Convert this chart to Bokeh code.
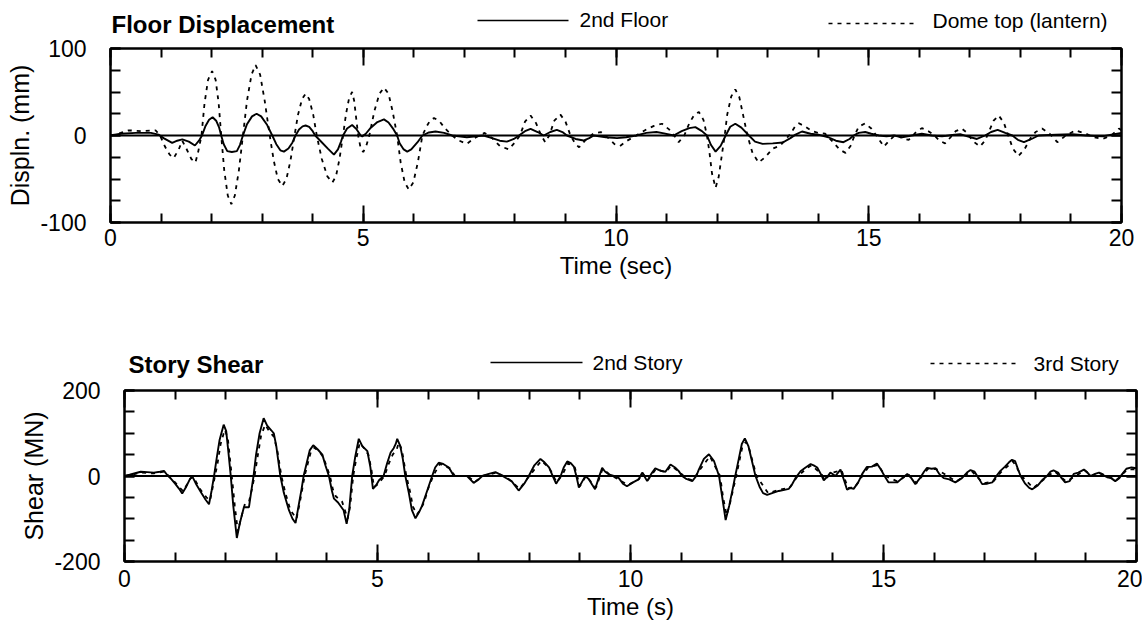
from bokeh.plotting import figure
from bokeh.models import (Range1d, SingleIntervalTicker, LinearAxis, Span, CustomJSTickFormatter)
from bokeh.core.properties import value
from bokeh.embed import file_html
from bokeh.resources import INLINE

# ---------------- data ----------------
floor2_pts = [(0,0),(0.2,2),(0.5,3),(0.8,3),(0.95,1),(1.05,-3),(1.22,-8.5),(1.32,-6),(1.42,-4.5),(1.55,-7),(1.67,-11.5),(1.75,-6),(1.81,0),(1.88,11),(1.95,18),(2.02,21),(2.09,17),(2.15,9),(2.19,0),(2.24,-10),(2.31,-18),(2.4,-19),(2.5,-18),(2.56,-11),(2.62,0),(2.7,13),(2.8,22),(2.89,25),(2.98,22),(3.1,12),(3.2,0),(3.28,-10),(3.36,-17),(3.43,-18.5),(3.52,-15),(3.6,-8),(3.66,0),(3.73,7),(3.8,10.5),(3.86,11.5),(3.93,10),(4.0,5),(4.05,0),(4.15,-6),(4.3,-15),(4.42,-22),(4.5,-16),(4.56,-7),(4.6,0),(4.68,8),(4.78,12),(4.87,7),(4.95,0),(4.98,-1),(5.05,2),(5.15,9),(5.28,15.5),(5.41,18.5),(5.5,15),(5.6,7),(5.67,0),(5.72,-9),(5.8,-16),(5.87,-18.5),(5.95,-16),(6.07,-8),(6.17,0),(6.3,3.5),(6.43,4.6),(6.6,3),(6.76,0),(7.05,-2),(7.38,0),(7.55,-3),(7.7,-6),(7.84,-7),(7.98,-4),(8.08,0),(8.2,5),(8.31,7.7),(8.45,4),(8.57,0),(8.7,4),(8.83,6.5),(8.94,4),(9.03,0),(9.2,-4),(9.36,-5.8),(9.47,-3),(9.56,0),(9.8,-2),(10.02,-3),(10.2,-2),(10.4,0),(10.6,3),(10.8,4),(10.95,2.5),(11.14,0),(11.3,5),(11.45,8.5),(11.57,9.6),(11.7,5),(11.8,0),(11.88,-11),(11.97,-18.5),(12.07,-12),(12.17,0),(12.26,10),(12.36,13.5),(12.48,9),(12.63,0),(12.75,-7),(12.9,-9.6),(13.1,-9),(13.3,-8),(13.45,-3),(13.55,1),(13.68,4.6),(13.85,2),(14.0,1),(14.2,-2),(14.35,-6),(14.5,-7.7),(14.62,-4),(14.7,0),(14.8,3),(14.93,4),(15.05,2),(15.2,0),(15.35,-1),(15.5,0),(15.66,-2),(15.85,0),(16.05,2),(16.25,0),(16.45,-1),(16.65,0.5),(16.81,1.5),(16.95,-1),(17.14,-4),(17.3,0),(17.42,4),(17.55,6.5),(17.7,3),(17.84,0),(17.95,-5),(18.07,-7.7),(18.22,-4),(18.36,0),(18.7,1),(19.03,1.5),(19.3,0),(19.62,-1),(19.8,1),(20,3)]

dome_pts = [(0,0),(0.2,3),(0.36,6),(0.6,5),(0.89,6),(0.98,0),(1.08,-13),(1.17,-22),(1.25,-26),(1.35,-16),(1.42,-6),(1.5,-15),(1.6,-27),(1.68,-31),(1.73,-20),(1.8,0),(1.86,37),(1.93,64),(2.01,74),(2.08,64),(2.14,37),(2.19,0),(2.25,-40),(2.32,-69),(2.39,-79),(2.46,-69),(2.54,-40),(2.62,0),(2.7,40),(2.79,70),(2.87,81),(2.96,70),(3.05,40),(3.15,0),(3.23,-29),(3.31,-50),(3.4,-58),(3.48,-50),(3.56,-29),(3.64,0),(3.71,24),(3.79,42),(3.86,48),(3.93,42),(4.01,24),(4.08,0),(4.18,-27),(4.29,-47),(4.39,-54),(4.46,-47),(4.53,-27),(4.6,0),(4.66,25),(4.72,43),(4.78,50),(4.82,40),(4.86,20),(4.9,0),(4.95,-15),(5.0,-19),(5.06,-12),(5.12,0),(5.22,28),(5.32,48),(5.41,55),(5.5,48),(5.58,28),(5.67,0),(5.74,-31),(5.82,-54),(5.9,-62),(5.99,-54),(6.08,-31),(6.17,0),(6.25,10),(6.32,17),(6.4,20),(6.5,17),(6.62,8),(6.76,0),(6.86,-5),(7.05,-9.6),(7.2,-3),(7.4,3),(7.55,-3),(7.7,-12),(7.88,-16),(8.0,-8),(8.1,0),(8.2,16),(8.31,23),(8.42,14),(8.52,0),(8.6,-7.7),(8.68,0),(8.78,17),(8.9,24),(9.0,16),(9.1,0),(9.2,-10),(9.27,-13.5),(9.4,-5),(9.55,2),(9.7,4),(9.85,-3),(9.97,-10),(10.08,-12),(10.22,-6),(10.4,0),(10.6,7),(10.75,11),(10.91,13.5),(11.05,7),(11.15,0),(11.24,-7.7),(11.35,0),(11.45,14),(11.55,24),(11.64,27),(11.73,18),(11.8,0),(11.85,-20),(11.9,-44),(11.97,-60),(12.03,-48),(12.1,-20),(12.15,0),(12.2,24),(12.28,45),(12.36,53),(12.44,44),(12.52,22),(12.6,0),(12.7,-20),(12.82,-31),(12.95,-25),(13.1,-15),(13.25,-11.5),(13.35,-5),(13.45,2),(13.55,11),(13.62,14),(13.75,10),(13.88,5),(14.0,3),(14.14,2),(14.3,-8),(14.42,-16),(14.54,-20),(14.64,-12),(14.72,0),(14.8,10),(14.93,14),(15.05,8),(15.15,0),(15.3,-12.7),(15.42,-5),(15.53,1),(15.66,-3),(15.79,-5),(15.92,3),(16.05,8.5),(16.18,5),(16.3,0),(16.4,-6),(16.51,-9),(16.62,-2),(16.72,5),(16.84,8),(16.95,3),(17.05,-6),(17.2,-12.7),(17.3,-6),(17.38,5),(17.47,17),(17.57,23),(17.67,15),(17.76,0),(17.85,-15),(17.96,-23.5),(18.08,-16),(18.2,-3),(18.3,4),(18.43,8),(18.58,2),(18.73,-7.7),(18.9,0),(19.09,6),(19.3,2),(19.45,-2),(19.62,-4),(19.8,0),(19.95,8),(20,6)]

story2_pts = [(0,0),(0.1,3),(0.32,10),(0.45,9),(0.58,8),(0.7,10),(0.78,12),(0.84,3),(0.9,-4),(1.0,-18),(1.08,-30),(1.14,-41),(1.22,-25),(1.29,-8),(1.34,-1),(1.42,-20),(1.52,-40),(1.6,-55),(1.67,-66),(1.72,-35),(1.77,0),(1.82,40),(1.88,85),(1.96,120),(2.01,105),(2.05,60),(2.1,0),(2.15,-70),(2.22,-145),(2.28,-110),(2.36,-73),(2.46,-73),(2.5,-40),(2.55,0),(2.6,50),(2.67,100),(2.75,135),(2.82,118),(2.9,107),(2.95,100),(3.0,70),(3.04,35),(3.08,0),(3.15,-40),(3.25,-80),(3.32,-100),(3.38,-110),(3.44,-70),(3.5,-30),(3.54,0),(3.6,30),(3.66,60),(3.73,72),(3.82,62),(3.91,50),(3.97,25),(4.04,0),(4.1,-35),(4.14,-53),(4.22,-62),(4.33,-80),(4.39,-112),(4.44,-80),(4.5,0),(4.56,45),(4.63,87),(4.7,70),(4.8,58),(4.86,20),(4.91,-30),(4.97,-22),(5.03,-10),(5.12,0),(5.19,30),(5.26,55),(5.32,65),(5.36,75),(5.39,87),(5.45,70),(5.5,40),(5.55,0),(5.62,-40),(5.68,-80),(5.75,-99),(5.82,-85),(5.88,-70),(5.98,-35),(6.08,0),(6.14,20),(6.21,31),(6.3,28),(6.41,20),(6.51,0),(6.65,0),(6.77,0),(6.9,-16),(7.0,-8),(7.07,0),(7.2,5),(7.33,9),(7.43,3),(7.53,-4),(7.65,-12),(7.79,-34),(7.9,-18),(7.99,0),(8.1,25),(8.22,40),(8.3,32),(8.39,20),(8.47,-2),(8.53,-18),(8.62,0),(8.68,20),(8.75,34),(8.82,30),(8.88,22),(8.93,0),(8.98,-27),(9.05,-12),(9.11,0),(9.18,-8),(9.24,-20),(9.3,-31),(9.37,-5),(9.44,19),(9.5,10),(9.57,4),(9.67,0),(9.77,-5),(9.85,-18),(9.93,-24),(10.05,-15),(10.16,-8),(10.23,8),(10.33,-12),(10.41,5),(10.49,18),(10.6,12),(10.69,10),(10.79,27),(10.88,20),(10.95,12),(11.02,0),(11.09,-6),(11.22,-12),(11.3,0),(11.35,15),(11.45,40),(11.55,51),(11.65,35),(11.75,0),(11.82,-55),(11.88,-103),(11.95,-70),(12.02,-30),(12.07,0),(12.14,40),(12.2,75),(12.26,88),(12.33,70),(12.4,35),(12.47,0),(12.55,-25),(12.62,-40),(12.7,-44),(12.8,-40),(12.93,-35),(13.02,-33),(13.13,-30),(13.2,-18),(13.26,-5),(13.36,11),(13.46,20),(13.56,28),(13.62,25),(13.69,20),(13.76,5),(13.82,-10),(13.9,0),(13.95,8),(14.05,0),(14.15,15),(14.22,-10),(14.28,-32),(14.35,-28),(14.41,-30),(14.5,-15),(14.58,5),(14.67,21),(14.77,22),(14.87,29),(14.95,15),(15.02,0),(15.1,-15),(15.27,-15),(15.37,-5),(15.47,5),(15.55,-5),(15.63,-19),(15.72,-5),(15.8,10),(15.86,19),(15.95,17),(16.03,18),(16.1,5),(16.19,-5),(16.3,-8),(16.42,-15),(16.55,-5),(16.65,8),(16.72,14),(16.8,10),(16.88,-5),(16.95,-19),(17.05,-18),(17.15,-15),(17.23,0),(17.31,12),(17.4,22),(17.48,32),(17.54,38),(17.6,35),(17.66,15),(17.71,0),(17.8,-18),(17.88,-28),(17.94,-31),(18.05,-22),(18.15,-8),(18.23,0),(18.3,10),(18.36,13),(18.45,8),(18.52,-5),(18.59,-15),(18.68,-12),(18.76,5),(18.85,8),(18.96,15),(19.03,8),(19.09,0),(19.18,5),(19.26,8),(19.34,2),(19.42,-3),(19.5,-5),(19.58,-12),(19.66,-5),(19.72,5),(19.8,17),(19.9,20),(20,18)]

story3_pts = [(0,0),(0.12,2),(0.32,8),(0.58,6),(0.78,10),(0.86,2),(1.0,-15),(1.16,-36),(1.3,-6),(1.36,-2),(1.5,-32),(1.62,-50),(1.69,-58),(1.78,-5),(1.84,30),(1.9,75),(1.98,108),(2.04,90),(2.12,0),(2.18,-70),(2.24,-130),(2.3,-100),(2.38,-65),(2.46,-60),(2.52,-30),(2.57,0),(2.63,45),(2.7,95),(2.78,120),(2.86,105),(2.95,92),(3.02,60),(3.1,0),(3.18,-40),(3.28,-80),(3.4,-100),(3.46,-65),(3.56,0),(3.62,28),(3.68,55),(3.75,66),(3.85,57),(3.93,44),(4.06,0),(4.12,-32),(4.18,-48),(4.3,-60),(4.41,-100),(4.46,-70),(4.52,0),(4.58,40),(4.65,78),(4.74,64),(4.82,50),(4.88,15),(4.93,-26),(5.0,-20),(5.14,0),(5.22,28),(5.3,50),(5.38,62),(5.42,78),(5.48,62),(5.57,0),(5.65,-40),(5.7,-72),(5.78,-90),(5.86,-76),(5.92,-62),(6.0,-30),(6.1,0),(6.23,28),(6.43,18),(6.53,0),(6.78,0),(6.92,-14),(7.08,0),(7.35,8),(7.55,-3),(7.81,-30),(8.0,0),(8.24,36),(8.4,18),(8.54,-15),(8.64,0),(8.77,30),(8.9,20),(9.0,-24),(9.12,0),(9.32,-27),(9.45,17),(9.58,4),(9.95,-21),(10.17,-7),(10.24,7),(10.34,-10),(10.5,16),(10.7,9),(10.8,24),(10.96,10),(11.1,-5),(11.23,-10),(11.36,13),(11.57,46),(11.77,0),(11.83,-50),(11.9,-92),(11.97,-62),(12.09,0),(12.21,68),(12.28,80),(12.35,62),(12.49,0),(12.72,-40),(12.95,-32),(13.15,-27),(13.28,-4),(13.48,18),(13.58,25),(13.78,4),(13.84,-9),(13.97,7),(14.17,13),(14.3,-28),(14.43,-27),(14.69,19),(14.89,26),(15.04,0),(15.28,-13),(15.49,4),(15.65,-17),(15.88,17),(16.05,16),(16.44,-13),(16.74,12),(16.97,-17),(17.17,-13),(17.33,10),(17.56,34),(17.73,0),(17.96,-28),(18.25,0),(18.38,11),(18.61,-13),(18.98,13),(19.11,0),(19.28,7),(19.6,-10),(19.82,15),(20,16)]

top_title = "Floor Displacement"
top_series_names = ["2nd Floor", "Dome top (lantern)"]
top_xlabel = "Time (sec)"
top_ylabel = "Displn. (mm)"
bot_title = "Story Shear"
bot_series_names = ["2nd Story", "3rd Story"]
bot_xlabel = "Time (s)"
bot_ylabel = "Shear (MN)"

FONT = "Liberation Sans"
W = 1142
OVERLAP = 15  # px the panel slides up under its (transparent-bordered) header strip


def unzip(pts):
    return [p[0] for p in pts], [p[1] for p in pts]


def make_header(height, title, title_xy, names, leg1, leg2):
    """Title and legend strip (pixel coordinates, y measured from the top)."""
    h = figure(width=W, height=height, output_backend="svg", toolbar_location=None,
               x_range=Range1d(0, W), y_range=Range1d(height, 0),
               min_border=0, min_border_left=0, min_border_right=0,
               min_border_top=0, min_border_bottom=0,
               x_axis_location=None, y_axis_location=None)
    h.xgrid.grid_line_color = None
    h.ygrid.grid_line_color = None
    h.outline_line_color = None
    h.background_fill_color = "white"
    h.border_fill_color = "white"
    h.text(x=[title_xy[0]], y=[title_xy[1]], text=[title], text_font=value(FONT),
           text_font_style=value("bold"), text_font_size=value("24px"),
           text_baseline=value("alphabetic"), text_align=value("left"),
           text_color="black")
    (x0, x1, ly, tx, ty) = leg1
    h.line([x0, x1], [ly, ly], line_color="black", line_width=1.5)
    h.text(x=[tx], y=[ty], text=[names[0]], text_font=value(FONT),
           text_font_size=value("21px"), text_baseline=value("alphabetic"),
           text_align=value("left"), text_color="black")
    (x0, x1, ly, tx, ty) = leg2
    h.line([x0, x1], [ly, ly], line_color="black", line_width=1.5, line_dash="4 5")
    h.text(x=[tx], y=[ty], text=[names[1]], text_font=value(FONT),
           text_font_size=value("21px"), text_baseline=value("alphabetic"),
           text_align=value("left"), text_color="black")
    return h


def style_axis(ax, tin_major, tin_minor):
    ax.axis_line_width = 2
    ax.axis_line_color = "black"
    ax.major_tick_in = tin_major
    ax.major_tick_out = 0
    ax.minor_tick_in = tin_minor
    ax.minor_tick_out = 0
    ax.major_tick_line_width = 2
    ax.minor_tick_line_width = 2
    ax.major_tick_line_color = "black"
    ax.minor_tick_line_color = "black"
    ax.major_label_text_color = "black"
    ax.axis_label_text_color = "black"


def blank_labels(ax):
    ax.formatter = CustomJSTickFormatter(code="return ''")
    ax.major_label_text_font_size = "1px"
    ax.major_label_standoff = 0


def make_panel(height, border, yr, xlabel, ylabel, s1, s2, standoff_x, minus_override):
    p = figure(width=W, height=height + OVERLAP, output_backend="svg", toolbar_location=None,
               x_range=Range1d(0, 20), y_range=Range1d(-yr, yr),
               min_border_left=border[0], min_border_right=border[1],
               min_border_top=border[2] + OVERLAP, min_border_bottom=border[3],
               x_axis_location=None, y_axis_location=None,
               styles={"margin-top": "-%dpx" % OVERLAP})
    p.xgrid.grid_line_color = None
    p.ygrid.grid_line_color = None
    p.outline_line_color = "black"
    p.outline_line_width = 2
    p.background_fill_color = "white"
    p.border_fill_color = None

    xb = LinearAxis(ticker=SingleIntervalTicker(interval=5, num_minor_ticks=5))
    style_axis(xb, 17, 9)
    xb.major_label_text_font = FONT
    xb.major_label_text_font_size = "23px"
    xb.major_label_standoff = standoff_x
    xb.axis_label = xlabel
    xb.axis_label_text_font = FONT
    xb.axis_label_text_font_size = "24px"
    xb.axis_label_text_font_style = "normal"
    xb.axis_label_standoff = 3
    p.add_layout(xb, "below")

    xt = LinearAxis(ticker=SingleIntervalTicker(interval=5, num_minor_ticks=5))
    style_axis(xt, 17, 9)
    blank_labels(xt)
    p.add_layout(xt, "above")

    yl = LinearAxis(ticker=SingleIntervalTicker(interval=yr, num_minor_ticks=4))
    style_axis(yl, 10, 10)
    yl.major_label_text_font = FONT
    yl.major_label_text_font_size = "23px"
    yl.major_label_standoff = 24
    yl.major_label_overrides = minus_override
    yl.axis_label = ylabel
    yl.axis_label_text_font = FONT
    yl.axis_label_text_font_size = "25px"
    yl.axis_label_text_font_style = "normal"
    yl.axis_label_standoff = 3
    p.add_layout(yl, "left")

    yr_ax = LinearAxis(ticker=SingleIntervalTicker(interval=yr, num_minor_ticks=4))
    style_axis(yr_ax, 10, 10)
    blank_labels(yr_ax)
    p.add_layout(yr_ax, "right")

    p.add_layout(Span(location=0, dimension="width", line_color="black", line_width=2))

    t1, v1 = unzip(s1)
    t2, v2 = unzip(s2)
    p.line(t2, v2, line_color="black", line_width=1.8, line_dash="4 5")
    p.line(t1, v1, line_color="black", line_width=1.9)
    return p


top_hdr = make_header(39, top_title, (111, 24), top_series_names,
                      (477, 568, 20, 579, 19), (828, 917, 23, 932, 20))
top = make_panel(261, (110, 21, 9, 78), 100, top_xlabel, top_ylabel,
                 floor2_pts, dome_pts, 6, {-100: "-100"})
bot_hdr = make_header(82, bot_title, (128, 64), bot_series_names,
                      (490, 582, 62, 592, 62), (930, 1020, 63, 1033, 63))
bot = make_panel(240, (124, 6, 8, 58), 200, bot_xlabel, bot_ylabel,
                 story2_pts, story3_pts, 8, {-200: "-200"})

open("out.html", "w").write(file_html([top_hdr, top, bot_hdr, bot], INLINE))
